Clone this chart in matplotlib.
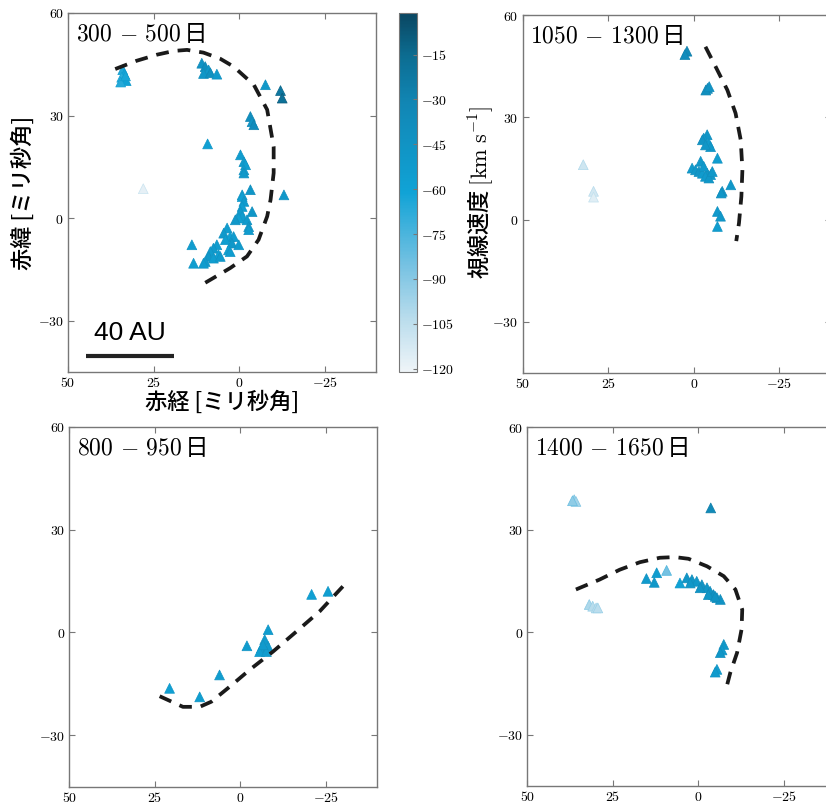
import numpy as np
import matplotlib
matplotlib.use("Agg")
import matplotlib.pyplot as plt
from matplotlib.colors import LinearSegmentedColormap, Normalize
from matplotlib.ticker import FuncFormatter, FixedLocator

plt.rcParams['mathtext.fontset'] = 'cm'
plt.rcParams['font.family'] = ['Noto Sans CJK JP', 'DejaVu Sans']

# ---- data (RA offset, Dec offset in mas; LSR velocity in km/s) ----
# 300-500 days
tl_ra = [34.0, 33.5, 34.3, 33.0, 34.6, 33.2,
         10.9, 9.9, 8.9, 10.4, 8.4, 6.5,
         -7.7, -12.1, -12.6, -3.3, -3.8, -4.3, 9.2, 28.0,
         -0.4, -1.4, -1.9, -1.4, -1.4, -3.3,
         -0.9, -0.9, -1.4, -0.9, -0.4, -0.9, 0.1, 1.1, -3.8,
         -2.3, -2.8, -2.8, -13.1,
         3.5, 4.5, 2.6, 1.6, 4.0, 2.1, 0.1, 3.1, 6.5, 7.5, 8.4, 6.0, 8.9, 7.5, 5.5, 2.6, 9.9, 10.4,
         13.8, 13.3]
tl_dec = [43.4, 42.2, 41.2, 40.2, 39.8, 41.6,
          45.3, 44.3, 43.3, 42.3, 42.5, 42.1,
          39.0, 37.3, 35.1, 29.7, 28.2, 27.3, 21.7, 8.6,
          18.5, 16.5, 15.6, 14.1, 13.2, 8.3,
          6.8, 6.3, 4.9, 3.4, 1.9, 0.5, 0.0, -0.5, 1.9,
          -0.5, -2.5, -3.4, 6.8,
          -2.9, -4.4, -5.4, -5.4, -6.3, -7.3, -7.8, -9.3, -7.8, -8.8, -9.8, -10.7, -11.2, -11.7, -11.2, -9.8, -12.7, -13.2,
          -7.8, -13.2]
tl_vel = [-65, -62, -68, -60, -66, -63,
          -45, -40, -50, -48, -42, -52,
          -50, -22, -18, -40, -45, -38, -58, -118,
          -55, -52, -56, -54, -50, -48,
          -55, -58, -53, -56, -52, -55, -57, -50, -48,
          -52, -50, -54, -50,
          -55, -52, -58, -54, -56, -50, -53, -57, -55, -52, -54, -58, -50, -56, -53, -55, -52, -54,
          -55, -56]
tl_curve_ra = [36.2, 30.0, 24.0, 19.0, 15.2, 10.4, 5.5, 1.6, -4.3, -8.2, -10.1, -10.1, -9.2, -8.2, -5.7, -2.3, 2.6, 7.5, 10.9]
tl_curve_dec = [43.6, 46.0, 47.8, 48.9, 49.2, 48.4, 46.6, 44.3, 39.0, 31.7, 20.9, 13.2, 5.4, 0.5, -6.3, -11.2, -14.6, -17.5, -19.5]

# 1050-1300 days
tr_ra = [2.0, 2.6, -4.0, -3.5, -4.5,
         -3.9, -2.9, -2.5, -4.4, -4.9, -3.4, -6.9, -2.0,
         0.5, -0.5, -1.5, -2.5, -3.9, -4.9, -3.4, -4.4, -2.9, -5.4,
         -10.8, -8.3, -8.0, -6.9, -7.8, -6.9,
         32.3, 29.3, 29.3]
tr_dec = [49.4, 48.4, 38.5, 38.0, 39.0,
          24.9, 23.9, 23.4, 22.4, 21.4, 21.9, 18.0, 17.1,
          15.1, 14.6, 14.1, 13.6, 13.6, 13.2, 12.7, 12.2, 15.6, 14.1,
          10.2, 8.3, 7.8, 2.4, 1.0, -2.0,
          16.1, 8.3, 6.6]
tr_vel = [-35, -38, -42, -40, -45,
          -48, -50, -46, -52, -50, -48, -55, -50,
          -52, -50, -48, -53, -47, -50, -52, -49, -51, -50,
          -50, -45, -48, -52, -50, -55,
          -110, -112, -116]
tr_curve_ra = [-3.4, -6.4, -9.8, -12.2, -13.7, -14.2, -13.9, -13.2, -12.4]
tr_curve_dec = [50.7, 44.8, 38.0, 31.2, 23.4, 14.6, 6.8, -1.0, -6.3]

# 800-950 days
bl_ra = [20.7, 11.9, 6.1, -1.9, -8.1, -7.1, -6.1, -7.1, -8.1, -5.6, -7.6, -6.6, -20.8, -25.6]
bl_dec = [-16.3, -18.8, -12.4, -3.9, 0.8, -2.1, -4.6, -4.6, -4.1, -5.6, -5.6, -3.6, 11.1, 12.0]
bl_vel = [-58, -56, -55, -54, -55, -52, -54, -56, -53, -57, -55, -52, -58, -57]
bl_curve_ra = [23.6, 16.8, 11.9, 8.5, 3.1, -2.7, -9.5, -16.4, -23.2, -30.0]
bl_curve_dec = [-18.6, -21.7, -21.7, -20.2, -15.8, -10.9, -5.6, 0.3, 6.2, 13.5]

# 1400-1650 days
br_ra = [36.3, 35.8, 36.8, -3.6, 9.3, 12.2, 15.2, 12.9, 5.4,
         3.4, 1.9, 0.5, -1.0, -2.5, -3.4, -4.4, -5.4, -6.4, 2.4, -0.5, -2.9, -4.9,
         31.9, 30.9, 29.9, 29.4,
         -7.4, -6.9, -6.4, -5.4, -4.9]
br_dec = [38.8, 38.3, 38.5, 36.4, 18.1, 17.4, 15.7, 14.6, 14.4,
          15.9, 15.4, 14.9, 13.9, 13.0, 12.0, 11.0, 10.1, 9.6, 14.4, 13.0, 11.0, 10.5,
          8.1, 7.6, 7.1, 7.1,
          -3.6, -5.2, -6.0, -10.9, -11.7]
br_vel = [-95, -98, -92, -35, -85, -55, -52, -50, -60,
          -48, -47, -50, -45, -48, -46, -44, -47, -45, -49, -46, -47, -45,
          -100, -103, -106, -104,
          -50, -52, -48, -55, -53]
br_curve_ra = [35.8, 28.9, 23.0, 17.1, 11.3, 6.9, 2.9, -2.5, -7.4, -10.8, -12.8, -12.6, -11.3, -9.3, -7.9]
br_curve_dec = [12.5, 15.4, 18.3, 20.5, 21.8, 22.0, 21.5, 19.3, 16.4, 12.5, 6.6, 0.8, -6.0, -11.9, -17.3]

titles = [('300', '500'), ('1050', '1300'), ('800', '950'), ('1400', '1650')]
x_ticks = [50, 25, 0, -25]
y_ticks = [-30, 0, 30, 60]
cb_ticks = [-15, -30, -45, -60, -75, -90, -105, -120]

cmap = LinearSegmentedColormap.from_list(
    'vel', [(0.0, '#eef4f8'), (0.15, '#b8dcec'), (0.3, '#74c1e2'), (0.5, '#10a3d6'),
            (0.75, '#1186b4'), (0.88, '#0c6d92'), (1.0, '#0a4661')])
norm = Normalize(vmin=-121, vmax=-1)

fig = plt.figure(figsize=(8.26, 8.05), dpi=100)

positions = [
    [0.0823, 0.5379, 0.3729, 0.4460],
    [0.6328, 0.5366, 0.3729, 0.4447],
    [0.0839, 0.0227, 0.3729, 0.4472],
    [0.6384, 0.0239, 0.3729, 0.4452],
]
panels = [
    (tl_ra, tl_dec, tl_vel, tl_curve_ra, tl_curve_dec),
    (tr_ra, tr_dec, tr_vel, tr_curve_ra, tr_curve_dec),
    (bl_ra, bl_dec, bl_vel, bl_curve_ra, bl_curve_dec),
    (br_ra, br_dec, br_vel, br_curve_ra, br_curve_dec),
]

fmt = FuncFormatter(lambda v, p: r'$%d$' % v)
sc = None
for i, (ra, dec, vel, cra, cdec) in enumerate(panels):
    ax = fig.add_axes(positions[i])
    ax.plot(cra, cdec, color='#1a1a1a', lw=2.7, linestyle=(0, (3.4, 2.4)), zorder=3)
    edge = cmap(np.clip(norm(np.array(vel)) + 0.08, 0, 1))
    sc = ax.scatter(ra, dec, c=vel, cmap=cmap, norm=norm, marker='^', s=50,
                    edgecolors=edge, linewidths=0.5, zorder=2)
    ax.set_xlim(50, -40)
    ax.set_ylim(-45, 60)
    ax.xaxis.set_major_locator(FixedLocator(x_ticks))
    ax.yaxis.set_major_locator(FixedLocator(y_ticks))
    ax.xaxis.set_major_formatter(fmt)
    ax.yaxis.set_major_formatter(fmt)
    ax.tick_params(direction='in', length=4, width=0.8, color='#777777',
                   top=True, right=True, labelsize=10, pad=3)
    for s in ax.spines.values():
        s.set_color('#777777')
        s.set_linewidth(1.0)
    a, b = titles[i]
    ax.text(0.025, 0.975, r'$%s\,-\,%s\,$' % (a, b) + '日', transform=ax.transAxes,
            ha='left', va='top', fontsize=17)
    if i == 0:
        ax.set_xlabel('赤経 [ミリ秒角]', fontsize=16, fontweight='medium', labelpad=0)
        ax.set_ylabel('赤緯 [ミリ秒角]', fontsize=16, fontweight='medium', labelpad=2)
        ax.plot([44.6, 18.9], [-40.2, -40.2], color='#222222', lw=3, solid_capstyle='butt')
        ax.text(31.8, -37.2, '40 AU', ha='center', va='bottom', fontsize=19,
                family='Liberation Sans')

cax = fig.add_axes([0.4834, 0.5383, 0.0218, 0.4460])
cb = fig.colorbar(sc, cax=cax)
cb.set_ticks(cb_ticks)
cb.ax.yaxis.set_major_formatter(fmt)
cb.ax.tick_params(direction='in', length=3, width=0.8, color='#777777', labelsize=10, pad=3)
cb.outline.set_edgecolor('#777777')
cb.set_label('視線速度 ' + r'$[\mathrm{km\ s^{-1}}]$', fontsize=16, fontweight='medium', labelpad=8)

fig.savefig('out.png', dpi=100)
